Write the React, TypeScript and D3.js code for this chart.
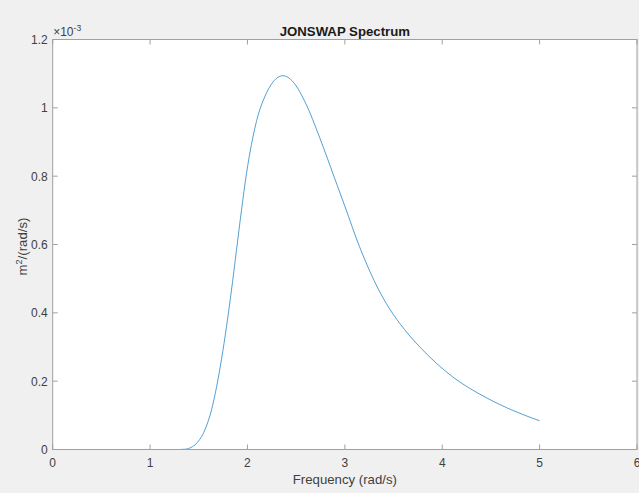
import React from "react";
import * as d3 from "d3";

const freq = [0, 1.0, 1.3, 1.37, 1.42, 1.477, 1.562, 1.631, 1.682, 1.733, 1.785, 1.836, 1.887, 1.938, 1.99, 2.041, 2.109, 2.177, 2.263, 2.365, 2.468, 2.6, 2.74, 2.9, 3.0, 3.15, 3.35, 3.65, 3.77, 4.11, 4.45, 4.72, 5.0];
const spec = [0, 0, 0, 0.001, 0.006, 0.018, 0.057, 0.116, 0.182, 0.263, 0.36, 0.467, 0.583, 0.699, 0.808, 0.893, 0.978, 1.032, 1.076, 1.094, 1.076, 1.012, 0.914, 0.79, 0.712, 0.594, 0.466, 0.338, 0.3, 0.212, 0.152, 0.115, 0.084];
const xTicks = [0, 1, 2, 3, 4, 5, 6];
const yTicks = [0, 0.2, 0.4, 0.6, 0.8, 1, 1.2];
const yTickLabels = ["0", "0.2", "0.4", "0.6", "0.8", "1", "1.2"];

const W = 639, H = 493;
const L = 52.7, R = 637, T = 39.5, B = 449.5;

export default function App() {
  const x = d3.scaleLinear().domain([0, 6]).range([L, R]);
  const y = d3.scaleLinear().domain([0, 1.2]).range([B, T]);
  const data = freq.map((f, i) => [f, spec[i]] as [number, number]);
  const line = d3.line<[number, number]>().x(d => x(d[0])).y(d => y(d[1])).curve(d3.curveMonotoneX);
  const font = "'Liberation Sans', Arial, sans-serif";
  const tc = "#404040";
  const ac = "#a0a0a0";
  return (
    <svg width={W} height={H} style={{ position: "absolute", left: 0, top: 0 }} fontFamily={font}>
      <rect x={0} y={0} width={W} height={H} fill="#f0f0f0" />
      <rect x={L} y={T} width={R - L} height={B - T} fill="#ffffff" />
      <path d={line(data) || ""} fill="none" stroke="#0072BD" strokeWidth={0.9} opacity={0.75} />
      <rect x={L} y={T} width={R - L} height={B - T} fill="none" stroke={ac} strokeWidth={1} />
      {xTicks.map(t => (
        <g key={"x" + t}>
          <line x1={x(t)} x2={x(t)} y1={B} y2={B - 5} stroke={ac} />
          <line x1={x(t)} x2={x(t)} y1={T} y2={T + 5} stroke={ac} />
          <text x={x(t)} y={B + 17.5} textAnchor="middle" fontSize={12} fill={tc}>{t}</text>
        </g>
      ))}
      {yTicks.map((t, i) => (
        <g key={"y" + t}>
          <line x1={L} x2={L + 5} y1={y(t)} y2={y(t)} stroke={ac} />
          <line x1={R} x2={R - 5} y1={y(t)} y2={y(t)} stroke={ac} />
          <text x={L - 5} y={y(t) + 4.5} textAnchor="end" fontSize={12} fill={tc}>{yTickLabels[i]}</text>
        </g>
      ))}
      <text x={L + 0.5} y={36} fontSize={12} fill={tc}>
        ×10<tspan dy={-5.5} fontSize={8.5}>-3</tspan>
      </text>
      <text x={(L + R) / 2} y={35.7} textAnchor="middle" fontSize={13.2} fontWeight="bold" fill="#1a1a1a">JONSWAP Spectrum</text>
      <text x={(L + R) / 2} y={484} textAnchor="middle" fontSize={13.2} fill={tc}>Frequency (rad/s)</text>
      <text transform={`translate(27, ${(T + B) / 2 + 2}) rotate(-90)`} textAnchor="middle" fontSize={13.2} fill={tc}>
        m<tspan dy={-5.5} fontSize={9}>2</tspan><tspan dy={5.5}>/(rad/s)</tspan>
      </text>
    </svg>
  );
}
